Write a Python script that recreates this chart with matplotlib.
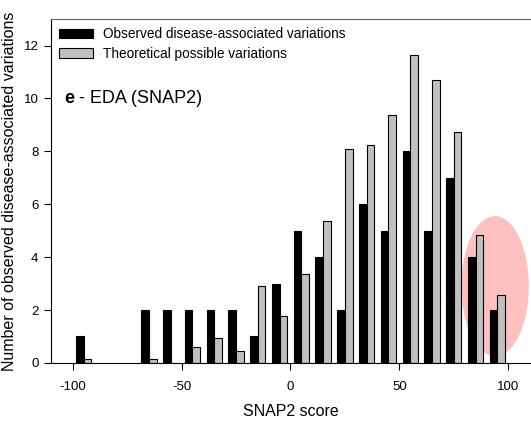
import matplotlib
matplotlib.use('Agg')
import matplotlib.pyplot as plt
import numpy as np
from matplotlib.patches import Ellipse

font = {'family': ['Liberation Sans', 'DejaVu Sans'], 'weight': 'normal', 'size': 9}
matplotlib.rc('font', **font)
matplotlib.rc('axes', unicode_minus=False)

# bin centres of SNAP2 score histogram
bins = [-95, -65, -55, -45, -35, -25, -15, -5, 5, 15, 25, 35, 45, 55, 65, 75, 85, 95]
observed = [1, 2, 2, 2, 2, 2, 1, 3, 5, 4, 2, 6, 5, 8, 5, 7, 4, 2]
theoretical = [0.15, 0.15, 0, 0.62, 0.96, 0.46, 2.9, 1.77, 3.38, 5.35, 8.08, 8.25,
               9.38, 11.66, 10.68, 8.73, 4.84, 2.57]
x_ticks = [-100, -50, 0, 50, 100]
y_ticks = [0, 2, 4, 6, 8, 10, 12]

fig = plt.figure(figsize=(5.31, 4.24), dpi=100)
ax = fig.add_axes([0.096, 0.144, 0.902, 0.811])

# highlight ellipse behind last bins
ax.add_patch(Ellipse((94, 2.9), 31, 5.3, facecolor='#ffc0c0', edgecolor='none', zorder=0))

w = 3.5
x = np.array(bins)
ax.bar(x - w / 2, observed, width=w, color='black', edgecolor='black', linewidth=0.8,
       label='Observed disease-associated variations', zorder=2)
ax.bar(x + w / 2, theoretical, width=w, color='#c0c0c0', edgecolor='black', linewidth=0.8,
       label='Theoretical possible variations', zorder=2)

ax.set_xlim(-110, 110)
ax.set_ylim(0, 13)
ax.set_xticks(x_ticks)
ax.set_yticks(y_ticks)
ax.tick_params(axis='both', direction='out', length=5, width=0.8, labelsize=9.5)
ax.tick_params(axis='x', pad=8)
ax.tick_params(axis='y', pad=4)
ax.spines['right'].set_visible(False)
ax.spines['top'].set_color('#606060')

ax.set_xlabel('SNAP2 score', fontsize=11.5, labelpad=8)
ax.set_ylabel('Number of observed disease-associated variations', fontsize=11.5, labelpad=5)

ax.legend(loc='upper left', frameon=False, fontsize=9.8, handlelength=2.5, handleheight=0.75,
          handletextpad=0.7, labelspacing=0.4, borderaxespad=0.2, borderpad=0.4)

t = ax.text(0.027, 0.77, 'e', transform=ax.transAxes, fontsize=13, fontweight='bold',
            va='center', ha='left')
ax.annotate(' - EDA (SNAP2)', xy=(1, 0.5), xycoords=t, fontsize=13, va='center', ha='left')

fig.savefig('out.png', dpi=100)
